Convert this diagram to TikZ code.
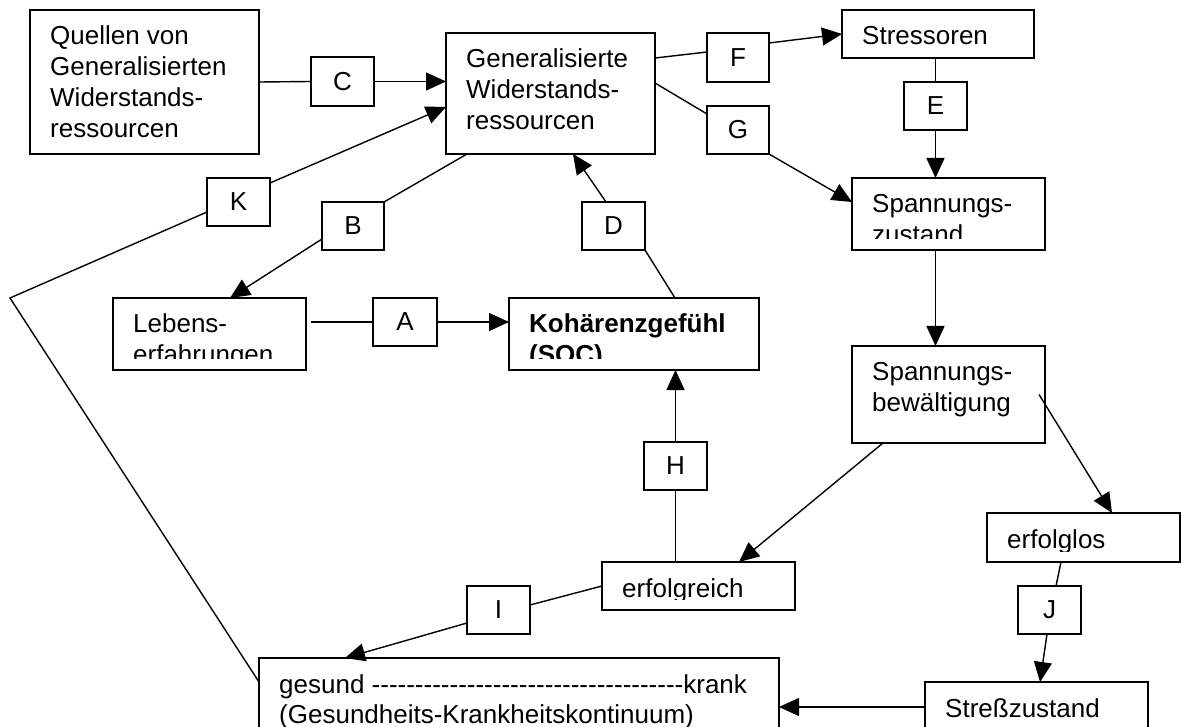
\documentclass[tikz,border=0pt]{standalone}
\usepackage{fontspec}
\setmainfont{Liberation Sans}
\usetikzlibrary{arrows.meta,calc}
\tikzset{
 bx/.style={draw, line width=1.4pt, anchor=north west, inner sep=0pt, outer sep=0pt},
 lbl/.style={bx, font=\fontsize{26}{30.7}\selectfont},
 txt/.style={anchor=base west, inner sep=0pt, font=\fontsize{26}{30.7}\selectfont},
 ln/.style={line width=1.4pt},
 ar/.style={ln, -{Triangle[length=20pt,width=18pt]}},
}
\newcommand\ml[1]{\begin{tabular}[t]{@{}l@{}}#1\end{tabular}}
\newcommand\boxtext[3][]{\begin{scope}\clip ([yshift=11pt]#2.south west) rectangle (#2.north east);\node[txt,#1] (#2-t) at ([xshift=20pt,yshift=-35pt]#2.north west) {\ml{#3}};\end{scope}}
\newcommand\hy{-{}}
\begin{document}
\begin{tikzpicture}[x=1pt,y=-1pt]
\clip (0,0) rectangle (1181,727);
% boxes
\node[bx, minimum width=229pt, minimum height=144pt] (quellen) at (30,10) {};
\node[bx, minimum width=209pt, minimum height=121pt] (gwr) at (446,33) {};
\node[bx, minimum width=192pt, minimum height=48pt] (stress) at (842,10) {};
\node[bx, minimum width=193pt, minimum height=72pt] (spz) at (852,178) {};
\node[bx, minimum width=250pt, minimum height=72pt] (koh) at (509,298) {};
\node[bx, minimum width=193pt, minimum height=72pt] (leb) at (113,298) {};
\node[bx, minimum width=193pt, minimum height=97pt] (spb) at (852,346) {};
\node[bx, minimum width=193pt, minimum height=48pt] (erfr) at (602,562) {};
\node[bx, minimum width=193pt, minimum height=49pt] (erfl) at (987,513) {};
\node[bx, minimum width=223pt, minimum height=100pt] (strz) at (925,682) {};
\node[bx, minimum width=520pt, minimum height=120pt] (ges) at (259,658) {};
% label boxes
\node[lbl, minimum width=63pt, minimum height=49pt] (C) at (311,57) {C};
\node[lbl, minimum width=62pt, minimum height=49pt] (F) at (707,33) {F};
\node[lbl, minimum width=63pt, minimum height=48pt] (E) at (904,82) {E};
\node[lbl, minimum width=62pt, minimum height=48pt] (G) at (707,106) {G};
\node[lbl, minimum width=63pt, minimum height=48pt] (D) at (582,202) {D};
\node[lbl, minimum width=64pt, minimum height=48pt] (A) at (373,298) {A};
\node[lbl, minimum width=62pt, minimum height=48pt] (B) at (322,202) {B};
\node[lbl, minimum width=63pt, minimum height=48pt] (K) at (207,178) {K};
\node[lbl, minimum width=63pt, minimum height=48pt] (H) at (644,442) {H};
\node[lbl, minimum width=63pt, minimum height=48pt] (I) at (467,586) {I};
\node[lbl, minimum width=63pt, minimum height=48pt] (J) at (1018,586) {J};
% texts
\boxtext{quellen}{Quellen von\\Generalisierten\\Widerstands-\\ressourcen}
\boxtext{gwr}{Generalisierte\\Widerstands-\\ressourcen}
\boxtext{stress}{Stressoren}
\boxtext{spz}{Spannungs-\\zustand}
\boxtext[font=\fontsize{26}{30.7}\selectfont\bfseries]{koh}{Kohärenzgefühl\\(SOC)}
\boxtext{leb}{Lebens-\\erfahrungen}
\boxtext{spb}{Spannungs-\\bewältigung}
\boxtext{erfr}{erfolgreich}
\boxtext{erfl}{erfolglos}
\boxtext{strz}{Streßzustand}
\boxtext{ges}{gesund \hy\hy\hy\hy\hy\hy\hy\hy\hy\hy\hy\hy\hy\hy\hy\hy\hy\hy\hy\hy\hy\hy\hy\hy\hy\hy\hy\hy\hy\hy\hy\hy\hy\hy\hy\hy krank\\(Gesundheits-Krankheitskontinuum)}
% connectors
\draw[ln] (quellen.east) -- (C.west);
\draw[ar] (C.east) -- (C.east -| gwr.west);
\draw[ar] ($(K.north east)+(0,5)$) -- ($(gwr.west)+(0,13.5)$);
\coordinate (kb) at (10,298);
\draw[ln] ($(K.south west)+(0,-14)$) -- (kb) -- ($(ges.north west)+(0,24)$);
\draw[ln] (B.north east) -- ($(gwr.south west)+(21,0)$);
\draw[ar] ($(B.south west)+(0,-11)$) -- ($(leb.north)+(20.5,0)$);
\draw[ln] ($(leb.east |- A.west)+(5,0)$) -- (A.west);
\draw[ar] (A.east) -- (A.east -| koh.west);
\draw[ar] ($(D.north)+(-7.5,0)$) -- ($(gwr.south)+(22.5,0)$);
\draw[ln] ($(koh.north)+(41,0)$) -- (D.south east);
\draw[ln] ($(gwr.north east)+(0,25)$) -- ($(F.west)+(0,-5.5)$);
\draw[ar] ($(F.east)+(0,-14.5)$) -- (stress.west);
\draw[ln] ($(gwr.north east)+(0,50)$) -- ($(G.north west)+(0,8)$);
\draw[ar] (G.south east) -- ($(spz.west)+(0,-12)$);
\draw[ln] (E.north |- stress.south) -- (E.north);
\draw[ar] (E.south) -- (E.south |- spz.north);
\draw[ar] (E.south |- spz.south) -- (E.south |- spb.north);
\draw[ar] ($(spb.south west)+(31,0)$) -- ($(erfr.north)+(40.5,0)$);
\draw[ar] ($(spb.east)+(-6,0)$) -- ($(erfl.north)+(28.5,0)$);
\draw[ln] (H.south |- erfr.north) -- (H.south);
\draw[ar] (H.north) -- (H.north |- koh.south);
\draw[ln] (erfr.west) -- ($(I.north east)+(0,19)$);
\draw[ar] ($(I.west)+(0,13)$) -- ($(ges.north west)+(86,0)$);
\draw[ln] ($(erfl.south)+(-22.5,0)$) -- ($(J.north)+(6.5,0)$);
\draw[ar] ($(J.south)+(-2.5,0)$) -- ($(strz.north)+(3.5,0)$);
\coordinate (sa) at ($(strz.north west)+(0,25)$);
\draw[ar] (sa) -- (sa -| ges.east);
\end{tikzpicture}
\end{document}
